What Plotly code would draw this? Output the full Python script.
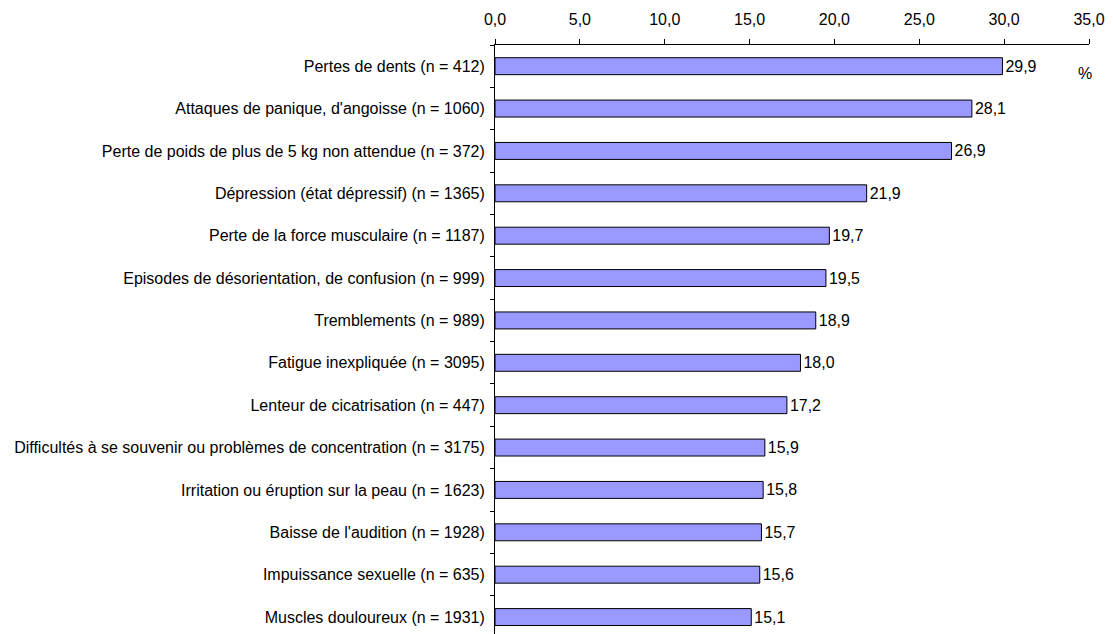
import plotly.graph_objects as go

categories = [
    "Pertes de dents (n = 412)",
    "Attaques de panique, d'angoisse (n = 1060)",
    "Perte de poids de plus de 5 kg non attendue (n = 372)",
    "Dépression (état dépressif) (n = 1365)",
    "Perte de la force musculaire (n = 1187)",
    "Episodes de désorientation, de confusion (n = 999)",
    "Tremblements (n = 989)",
    "Fatigue inexpliquée (n = 3095)",
    "Lenteur de cicatrisation (n = 447)",
    "Difficultés à se souvenir ou problèmes de concentration (n = 3175)",
    "Irritation ou éruption sur la peau (n = 1623)",
    "Baisse de l'audition (n = 1928)",
    "Impuissance sexuelle (n = 635)",
    "Muscles douloureux (n = 1931)",
]
values = [29.9, 28.1, 26.9, 21.9, 19.7, 19.5, 18.9, 18.0, 17.2, 15.9, 15.8, 15.7, 15.6, 15.1]
x_ticks = [0, 5, 10, 15, 20, 25, 30, 35]

font = dict(family="Liberation Sans, Arial, sans-serif", size=16, color="black")

fig = go.Figure(go.Bar(
    x=values,
    y=categories,
    orientation="h",
    marker=dict(color="#9999FF", line=dict(color="black", width=1)),
    texttemplate="%{x:.1f}",
    textposition="outside",
    textfont=font,
    cliponaxis=False,
))

fig.update_layout(
    width=1097, height=626,
    margin=dict(l=487, r=14, t=37, b=0),
    plot_bgcolor="white", paper_bgcolor="white",
    separators=", ",
    font=font,
    bargap=0.6,
    showlegend=False,
    xaxis=dict(
        side="top", range=[0, 35], tickvals=x_ticks, tickformat=".1f",
        showgrid=False, zeroline=False, showline=True, linecolor="black", linewidth=1,
        ticks="outside", ticklen=5, tickcolor="black", tickfont=font,
        ticklabeloverflow="allow", ticklabelstandoff=8,
    ),
    yaxis=dict(
        type="category", range=[13.4, -0.5],
        showgrid=False, zeroline=False, showline=True, linecolor="black", linewidth=1,
        ticks="outside", ticklen=4, tickcolor="black", tickson="boundaries",
        tickfont=font, ticklabelstandoff=6,
    ),
    annotations=[dict(
        text="%", xref="x", yref="paper", x=34.75, y=0.952,
        xanchor="center", yanchor="middle", showarrow=False, font=font,
    )],
)

fig.write_html("out.html")
